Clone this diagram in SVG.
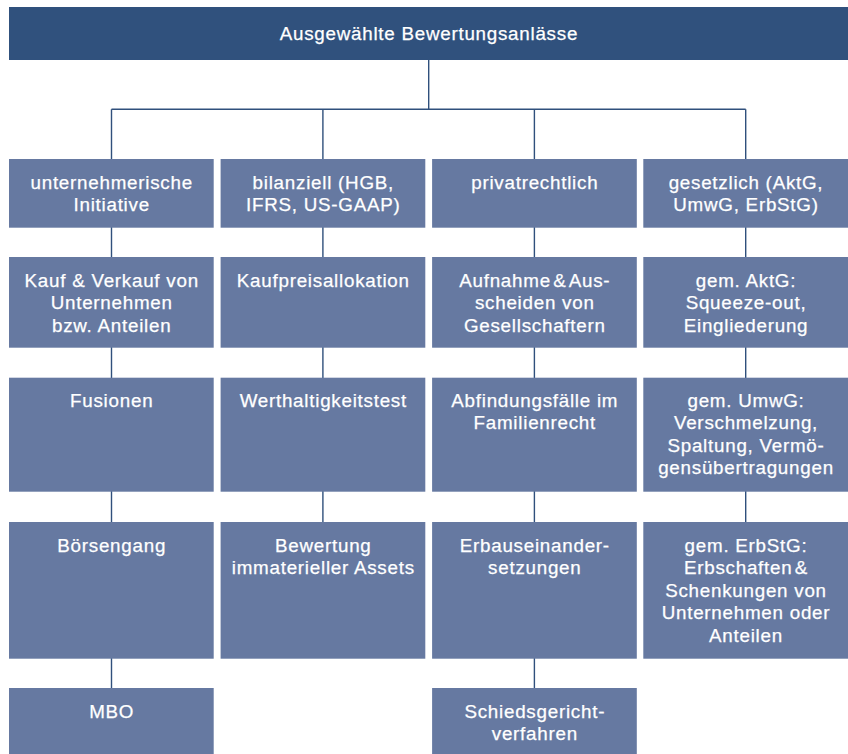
<svg xmlns="http://www.w3.org/2000/svg" width="848" height="754" viewBox="0 0 848 754">
<style>
.box{fill:#6679a1}
.top{fill:#30517d}
.t{font-family:"Liberation Sans",Arial,sans-serif;font-size:18.8px;letter-spacing:0.75px;fill:#ffffff;stroke:#ffffff;stroke-width:0.25;text-anchor:middle}
.c{stroke:#30507c;stroke-width:1.4;fill:none}
</style>
<rect width="848" height="754" fill="#ffffff"/>
<g id="connectors">
<path class="c" d="M428.7 60V109.3M111.5 109.3H745.7M111.5 109.3V690M322.9 109.3V524M534.4 109.3V690M745.7 109.3V524"/>
</g>
<g id="root"><rect class="top" x="9" y="7" width="839" height="53"/><text class="t" x="428.9" y="39.5">Ausgewählte Bewertungsanlässe</text></g>
<g id="c1r1"><rect class="box" x="9" y="159" width="204.7" height="68.7"/><text class="t" x="111.7" y="189"><tspan x="111.7">unternehmerische</tspan><tspan x="111.7" dy="22.4">Initiative</tspan></text></g>
<g id="c2r1"><rect class="box" x="220.6" y="159" width="204.7" height="68.7"/><text class="t" x="323.3" y="189"><tspan x="323.3">bilanziell (HGB,</tspan><tspan x="323.3" dy="22.4">IFRS, US-GAAP)</tspan></text></g>
<g id="c3r1"><rect class="box" x="432.1" y="159" width="204.7" height="68.7"/><text class="t" x="534.8" y="189">privatrechtlich</text></g>
<g id="c4r1"><rect class="box" x="643.3" y="159" width="204.7" height="68.7"/><text class="t" x="746" y="189"><tspan x="746">gesetzlich (AktG,</tspan><tspan x="746" dy="22.4">UmwG, ErbStG)</tspan></text></g>
<g id="c1r2"><rect class="box" x="9" y="257" width="204.7" height="90.7"/><text class="t" x="111.7" y="286.7"><tspan x="111.7">Kauf &amp; Verkauf von</tspan><tspan x="111.7" dy="22.4">Unternehmen</tspan><tspan x="111.7" dy="22.4">bzw. Anteilen</tspan></text></g>
<g id="c2r2"><rect class="box" x="220.6" y="257" width="204.7" height="90.7"/><text class="t" x="323.3" y="286.7">Kaufpreisallokation</text></g>
<g id="c3r2"><rect class="box" x="432.1" y="257" width="204.7" height="90.7"/><text class="t" x="534.8" y="286.7"><tspan x="534.8">Aufnahme&#8202;&amp;&#8202;Aus-</tspan><tspan x="534.8" dy="22.4">scheiden von</tspan><tspan x="534.8" dy="22.4">Gesellschaftern</tspan></text></g>
<g id="c4r2"><rect class="box" x="643.3" y="257" width="204.7" height="90.7"/><text class="t" x="746" y="286.7"><tspan x="746">gem. AktG:</tspan><tspan x="746" dy="22.4">Squeeze-out,</tspan><tspan x="746" dy="22.4">Eingliederung</tspan></text></g>
<g id="c1r3"><rect class="box" x="9" y="377.7" width="204.7" height="114"/><text class="t" x="111.7" y="406.9">Fusionen</text></g>
<g id="c2r3"><rect class="box" x="220.6" y="377.7" width="204.7" height="114"/><text class="t" x="323.3" y="406.9">Werthaltigkeitstest</text></g>
<g id="c3r3"><rect class="box" x="432.1" y="377.7" width="204.7" height="114"/><text class="t" x="534.8" y="406.9"><tspan x="534.8">Abfindungsfälle im</tspan><tspan x="534.8" dy="22.4">Familienrecht</tspan></text></g>
<g id="c4r3"><rect class="box" x="643.3" y="377.7" width="204.7" height="114"/><text class="t" x="746" y="406.9"><tspan x="746">gem. UmwG:</tspan><tspan x="746" dy="22.4">Verschmelzung,</tspan><tspan x="746" dy="22.4">Spaltung, Vermö-</tspan><tspan x="746" dy="22.4">gensübertragungen</tspan></text></g>
<g id="c1r4"><rect class="box" x="9" y="522" width="204.7" height="136.7"/><text class="t" x="111.7" y="552">Börsengang</text></g>
<g id="c2r4"><rect class="box" x="220.6" y="522" width="204.7" height="136.7"/><text class="t" x="323.3" y="552"><tspan x="323.3">Bewertung</tspan><tspan x="323.3" dy="22.4">immaterieller Assets</tspan></text></g>
<g id="c3r4"><rect class="box" x="432.1" y="522" width="204.7" height="136.7"/><text class="t" x="534.8" y="552"><tspan x="534.8">Erbauseinander-</tspan><tspan x="534.8" dy="22.4">setzungen</tspan></text></g>
<g id="c4r4"><rect class="box" x="643.3" y="522" width="204.7" height="136.7"/><text class="t" x="746" y="552"><tspan x="746">gem. ErbStG:</tspan><tspan x="746" dy="22.4">Erbschaften&#8202;&amp;</tspan><tspan x="746" dy="22.4">Schenkungen von</tspan><tspan x="746" dy="22.4">Unternehmen oder</tspan><tspan x="746" dy="22.4">Anteilen</tspan></text></g>
<g id="c1r5"><rect class="box" x="9" y="688" width="204.7" height="70"/><text class="t" x="111.7" y="717.6">MBO</text></g>
<g id="c3r5"><rect class="box" x="432.1" y="688" width="204.7" height="70"/><text class="t" x="534.8" y="717.6"><tspan x="534.8">Schiedsgericht-</tspan><tspan x="534.8" dy="22.4">verfahren</tspan></text></g>
</svg>
